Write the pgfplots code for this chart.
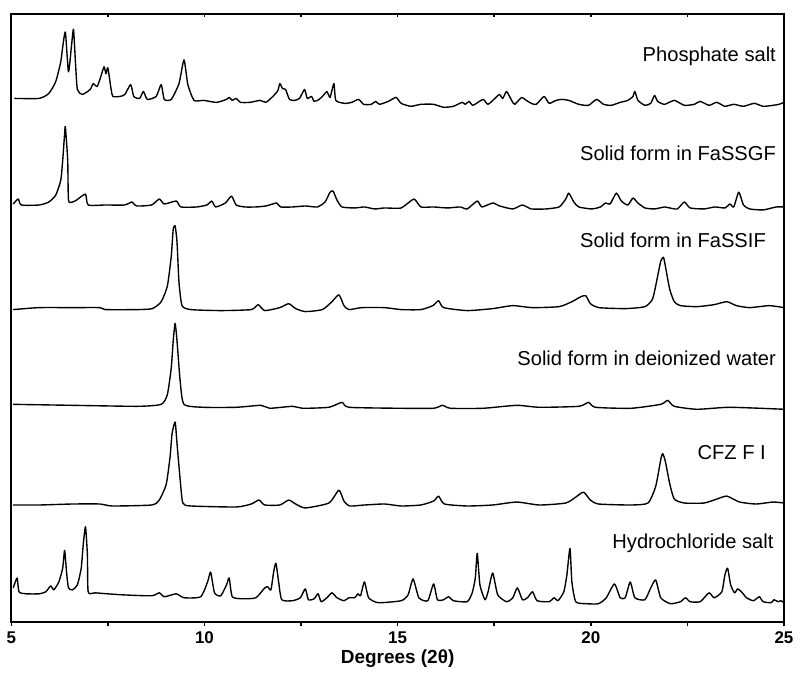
\documentclass[border=0pt]{standalone}
\usepackage{fontspec}
\setmainfont{Liberation Sans}
\usepackage{pgfplots}
\pgfplotsset{compat=1.18}

% XRPD patterns, stacked; y is an offset intensity (arbitrary units)
\pgfplotsset{
  xrpd/.style={
    scale only axis, width=391.5pt, height=308.5pt,
    xmin=5, xmax=25, ymin=0, ymax=617,
    ytick=\empty,
    xtick={5,10,15,20,25},
    minor xtick={7.5,12.5,17.5,22.5},
    major tick length=2pt, minor tick length=2pt,
    every tick/.style={black, line width=0.8pt},
    axis line style={line width=1pt},
    /pgf/number format/assume math mode=true,
  },
  pat/.style={black, line width=0.7pt, line join=round, smooth, tension=0.35},
}
\tikzset{lab/.style={anchor=base east, inner sep=0pt, font=\fontsize{10.2}{12}\selectfont}}

\begin{document}
\begin{tikzpicture}
\begin{axis}[xrpd,
  xtick pos=bottom, tick align=outside,
  xticklabel style={font=\bfseries\fontsize{8.6}{10}\selectfont, yshift=1pt},
  xlabel={Degrees (2θ)},
  xlabel style={font=\bfseries\fontsize{9.6}{11}\selectfont, yshift=3.5pt},
]
% Phosphate salt
\addplot[pat] coordinates {
(5.08,531) (5.72,531) (5.97,536) (6.15,548) (6.28,568) (6.33,583) (6.40,598) (6.48,558) (6.56,585) (6.61,601) (6.66,568) (6.71,540) (6.84,535) (7.04,540) (7.12,546) (7.22,543) (7.30,551) (7.40,563) (7.45,556) (7.50,562) (7.58,541) (7.63,533) (7.81,533) (7.94,535) (8.09,545) (8.17,533) (8.32,531) (8.42,538) (8.52,530) (8.75,533) (8.88,545) (8.96,530) (9.14,530) (9.34,546) (9.47,570) (9.57,545) (9.73,529) (9.98,529) (10.31,527) (10.57,530) (10.64,532) (10.72,529) (10.82,531) (10.93,527) (11.18,527) (11.44,529) (11.59,527) (11.77,533) (11.90,539) (11.95,546) (12.02,541) (12.10,540) (12.20,530) (12.33,529) (12.46,531) (12.59,540) (12.66,531) (12.77,533) (12.84,528) (12.97,530) (13.10,535) (13.17,538) (13.25,532) (13.35,546) (13.40,529) (13.63,526) (13.81,527) (13.99,530) (14.12,525) (14.32,525) (14.43,528) (14.53,525) (14.76,528) (14.96,532) (15.09,526)
(15.34,523) (15.60,525) (15.93,525) (16.19,522) (16.44,523) (16.67,527) (16.75,525) (16.85,528) (16.95,524) (17.21,530) (17.34,525) (17.57,533) (17.64,535) (17.72,531) (17.82,538) (17.95,529) (18.03,525) (18.21,532) (18.33,529) (18.46,526) (18.59,525) (18.79,533) (18.92,526) (19.10,529) (19.25,530) (19.43,529) (19.69,525) (19.94,524) (20.15,530) (20.33,525) (20.53,524) (20.76,527) (20.96,529) (21.09,533) (21.14,538) (21.22,529) (21.40,524) (21.55,526) (21.65,534) (21.73,528) (21.91,525) (22.16,529) (22.42,524) (22.68,525) (22.83,528) (23.06,524) (23.26,527) (23.47,523) (23.70,525) (23.95,523) (24.23,526) (24.46,523) (24.72,524) (24.87,525) (25.00,527)
};
% Solid form in FaSSGF
\addplot[pat] coordinates {
(5.05,424) (5.18,429) (5.26,423) (5.72,423) (5.97,426) (6.15,433) (6.28,448) (6.33,468) (6.38,495) (6.40,502) (6.46,468) (6.48,428) (6.58,426) (6.69,428) (6.92,434) (6.99,423) (7.43,423) (7.94,423) (8.12,426) (8.24,422) (8.63,423) (8.83,429) (8.96,424) (9.27,427) (9.39,421) (9.80,421) (10.06,423) (10.19,427) (10.29,421) (10.54,425) (10.70,432) (10.82,423) (11.05,421) (11.33,421) (11.59,422) (11.87,425) (11.97,421) (12.28,421) (12.61,422) (12.92,421) (13.12,426) (13.25,436) (13.33,437) (13.43,428) (13.56,421) (13.89,420) (14.14,421) (14.40,419) (14.66,420) (15.09,420)
(15.42,429) (15.60,421) (15.93,421) (16.29,420) (16.62,421) (16.80,419) (17.06,427) (17.18,421) (17.46,425) (17.64,422) (17.98,419) (18.23,423) (18.46,419) (18.84,419) (19.18,421) (19.35,429) (19.43,435) (19.56,426) (19.69,421) (20.02,419) (20.25,421) (20.38,425) (20.50,424) (20.66,435) (20.79,427) (20.96,423) (21.09,430) (21.22,425) (21.40,420) (21.65,419) (21.91,421) (22.04,420) (22.24,419) (22.42,426) (22.57,420) (22.93,419) (23.21,421) (23.47,420) (23.60,424) (23.70,421) (23.83,436) (23.95,423) (24.11,419) (24.46,418) (24.80,421) (25.00,421)
};
% Solid form in FaSSIF
\addplot[pat] coordinates {
(5.05,317) (5.72,319) (6.58,319) (7.30,319) (7.43,317) (8.27,317) (8.65,318) (8.88,325) (9.04,341) (9.14,371) (9.19,398) (9.24,402) (9.29,385) (9.34,345) (9.42,321) (9.65,317) (10.42,316) (11.21,317) (11.39,322) (11.56,316) (11.95,319) (12.18,323) (12.36,318) (12.61,315) (13.05,317) (13.30,325) (13.48,332) (13.61,321) (13.74,317) (14.07,319) (14.66,319) (15.09,317)
(15.60,317) (15.91,321) (16.06,326) (16.19,319) (16.80,316) (17.46,318) (17.98,321) (18.49,319) (19.18,320) (19.51,325) (19.74,330) (19.87,331) (19.99,323) (20.20,319) (20.89,318) (21.40,320) (21.60,328) (21.73,351) (21.81,366) (21.88,370) (21.93,361) (22.04,338) (22.16,325) (22.32,321) (22.75,320) (23.19,322) (23.52,325) (23.77,321) (24.11,319) (24.62,321) (25.00,319)
};
% Solid form in deionized water
\addplot[pat] coordinates {
(5.05,221) (6.58,220) (8.27,219) (8.88,221) (9.04,231) (9.14,258) (9.19,285) (9.24,303) (9.29,285) (9.37,245) (9.47,221) (9.98,218) (10.82,218) (11.46,220) (11.69,217) (12.28,219) (12.54,217) (13.22,218) (13.56,223) (13.74,218) (15.09,217)
(15.93,217) (16.16,220) (16.37,217) (17.21,217) (18.08,220) (18.67,218) (19.69,219) (19.94,223) (20.12,218) (21.04,217) (21.81,221) (21.99,225) (22.16,219) (22.75,216) (23.60,218) (25.00,216)
};
% CFZ F I
\addplot[pat] coordinates {
(5.05,119) (5.72,119) (6.58,120) (7.30,120) (7.61,118) (8.63,119) (8.83,124) (9.01,140) (9.11,168) (9.16,191) (9.24,203) (9.29,181) (9.37,145) (9.44,121) (9.65,118) (10.82,117) (11.21,120) (11.41,124) (11.56,119) (11.95,119) (12.18,124) (12.36,120) (12.61,116) (13.22,121) (13.48,134) (13.61,123) (13.76,118) (14.14,119) (14.66,120) (15.09,118)
(15.60,119) (15.93,123) (16.06,128) (16.21,120) (16.80,118) (17.46,119) (18.08,122) (18.67,119) (19.35,121) (19.61,127) (19.81,132) (19.99,124) (20.20,120) (21.04,119) (21.48,121) (21.68,138) (21.81,165) (21.86,171) (21.93,163) (22.04,141) (22.16,125) (22.42,121) (22.93,121) (23.26,125) (23.52,128) (23.85,122) (24.28,120) (24.72,122) (25.00,121)
};
% Hydrochloride salt
\addplot[pat] coordinates {
(5.05,35) (5.15,45) (5.20,31) (5.38,29) (5.72,29) (5.89,31) (6.02,37) (6.10,33) (6.23,41) (6.33,55) (6.38,73) (6.43,51) (6.48,35) (6.58,33) (6.71,38) (6.81,55) (6.86,78) (6.92,97) (6.97,68) (6.99,31) (7.17,30) (7.86,28) (8.63,27) (8.83,30) (8.96,26) (9.27,29) (9.47,25) (9.90,26) (10.08,41) (10.16,51) (10.26,30) (10.42,27) (10.57,38) (10.64,45) (10.72,26) (11.00,24) (11.33,25) (11.56,35) (11.64,36) (11.72,33) (11.79,51) (11.85,60) (11.92,41) (12.00,23) (12.28,22) (12.48,25) (12.61,34) (12.69,23) (12.84,24) (12.94,29) (13.02,21) (13.17,25) (13.30,30) (13.43,25) (13.61,22) (13.74,25) (13.89,25) (13.97,29) (14.04,27) (14.14,41) (14.25,25) (14.50,20) (15.09,22)
(15.27,28) (15.40,44) (15.55,25) (15.78,22) (15.93,39) (16.03,23) (16.19,23) (16.32,26) (16.44,22) (16.80,21) (16.93,30) (17.01,45) (17.06,70) (17.13,38) (17.26,23) (17.34,31) (17.46,50) (17.59,28) (17.82,21) (17.98,25) (18.10,35) (18.23,23) (18.36,25) (18.49,31) (18.61,22) (18.92,21) (19.05,25) (19.15,22) (19.30,31) (19.38,48) (19.46,75) (19.51,41) (19.61,21) (19.87,19) (20.20,19) (20.40,25) (20.61,39) (20.76,25) (20.89,25) (21.02,41) (21.14,25) (21.40,23) (21.55,35) (21.68,43) (21.81,25) (22.06,19) (22.32,21) (22.45,25) (22.57,21) (22.83,21) (23.06,30) (23.19,25) (23.39,31) (23.47,48) (23.54,55) (23.62,38) (23.72,30) (23.80,34) (23.90,31) (24.03,25) (24.21,22) (24.36,26) (24.46,21) (24.67,20) (24.74,23) (24.85,21) (24.92,22) (25.00,20)
};
\node[lab] at (axis cs:24.80,568) {Phosphate salt};
\node[lab] at (axis cs:24.80,468) {Solid form in FaSSGF};
\node[lab] at (axis cs:24.54,380) {Solid form in FaSSIF};
\node[lab] at (axis cs:24.80,260) {Solid form in deionized water};
\node[lab] at (axis cs:24.54,165) {CFZ F I};
\node[lab] at (axis cs:24.74,75) {Hydrochloride salt};
\end{axis}
% top ticks point inward
\begin{axis}[xrpd, xtick pos=top, tick align=inside, xticklabels={}]
\end{axis}
\end{tikzpicture}
\end{document}
